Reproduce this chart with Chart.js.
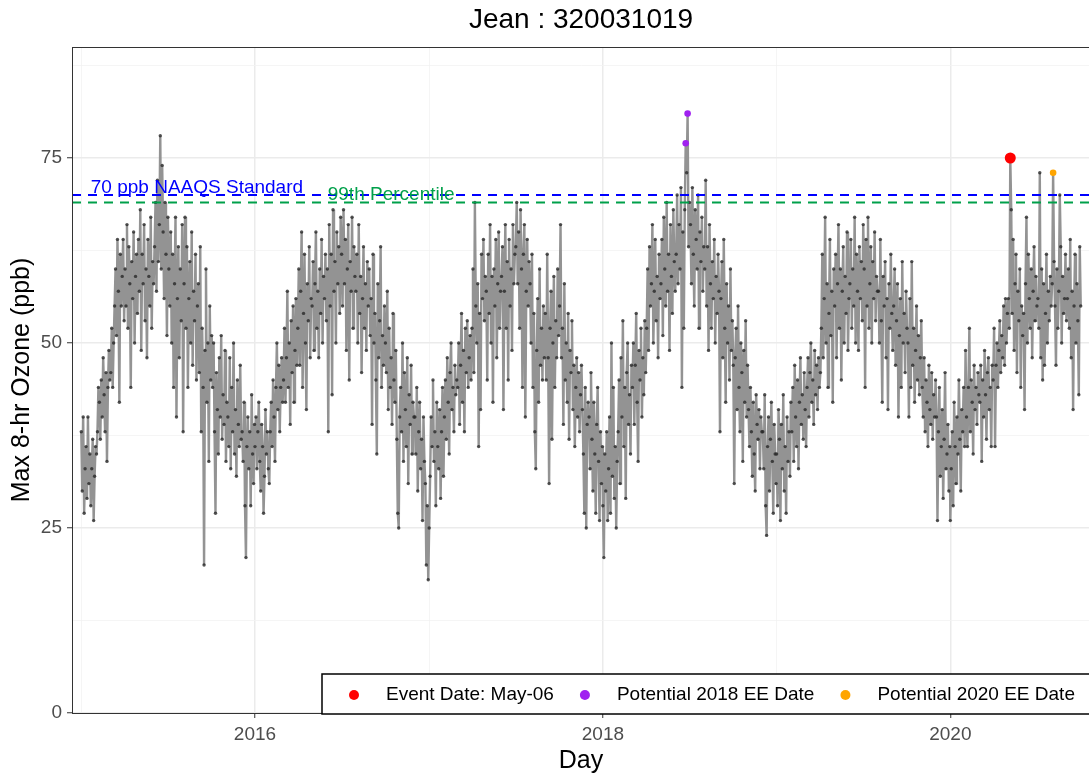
<!DOCTYPE html>
<html>
<head>
<meta charset="utf-8">
<title>Jean : 320031019</title>
<script src="https://cdn.jsdelivr.net/npm/chart.js@4.4.1/dist/chart.umd.min.js"></script>
<style>
  html, body { margin: 0; padding: 0; background: #fff; overflow: hidden; }
  #wrap { position: relative; width: 1100px; height: 778px; }
</style>
</head>
<body>
<div id="wrap"><canvas id="myChart"></canvas></div>
<script>
// max 8-hr ozone (ppb), one reading every 2 days starting Jan 1 of each year
// (one line per month)
const o3_2015 = [
  38, 30, 40, 27, 33, 36, 29, 40, 31, 35, 28, 33, 37, 26, 32, 36,
  35, 38, 44, 42, 37, 45, 40, 48, 43, 38, 46, 34, 44, 49, 45,
  46, 52, 44, 50, 55, 60, 51, 64, 57, 42, 62, 55, 59, 64, 53,
  60, 55, 66, 52, 63, 58, 44, 61, 56, 65, 50, 59, 62, 54, 64,
  57, 68, 49, 62, 58, 66, 53, 60, 48, 64, 59, 55, 67, 52, 61, 58,
  63, 69, 57, 72, 61, 66, 78, 60, 74, 65, 56, 69, 62, 51, 67,
  60, 55, 65, 50, 62, 44, 58, 67, 40, 56, 63, 48, 60, 53, 66,
  38, 58, 67, 52, 63, 44, 56, 61, 50, 65, 47, 57, 53, 62, 45, 55,
  58, 46, 63, 38, 52, 44, 20, 49, 60, 42, 50, 34, 55, 45, 51,
  44, 50, 38, 27, 46, 41, 35, 48, 40, 51, 37, 43, 39, 49, 34, 42,
  40, 36, 48, 33, 44, 38, 50, 35, 41, 32, 45, 39, 36, 47, 37,
  38, 34, 42, 28, 21, 36, 40, 33, 38, 28, 43, 35, 31, 39
];
const o3_2016 = [
  36, 40, 33, 38, 42, 34, 30, 39, 36, 27, 32, 41, 35, 38, 33,
  31, 38, 42, 36, 45, 40, 34, 44, 50, 41, 47, 38, 44, 48, 42,
  45, 52, 42, 48, 57, 44, 50, 39, 53, 46, 55, 42, 49, 56, 47,
  52, 60, 47, 57, 65, 44, 54, 62, 50, 41, 58, 53, 63, 48, 56,
  55, 61, 49, 58, 65, 52, 57, 48, 60, 54, 64, 50, 59, 56, 62, 53,
  60, 38, 66, 55, 62, 43, 68, 57, 61, 50, 65, 58, 63, 54, 67,
  62, 55, 68, 58, 64, 49, 60, 66, 45, 61, 57, 67, 52, 63, 59,
  57, 62, 50, 66, 54, 59, 46, 56, 63, 52, 58, 49, 61, 55, 60, 51,
  56, 39, 62, 50, 54, 45, 35, 58, 48, 53, 63, 44, 51, 47, 55,
  50, 46, 57, 41, 52, 44, 48, 39, 54, 45, 42, 49, 37, 27, 25, 40,
  44, 38, 50, 34, 46, 41, 36, 48, 31, 43, 39, 47, 35, 42, 40,
  40, 35, 44, 30, 38, 42, 33, 37, 26, 40, 34, 31, 20, 28, 18
];
const o3_2017 = [
  25, 32, 40, 36, 45, 34, 38, 28, 42, 36, 33, 41, 29, 38, 44,
  32, 40, 45, 37, 48, 42, 35, 46, 50, 41, 44, 38, 47, 43, 45,
  44, 50, 39, 47, 54, 42, 49, 38, 52, 46, 53, 44, 48, 51, 45,
  52, 60, 46, 69, 55, 50, 58, 36, 54, 41, 62, 56, 64, 53, 59,
  57, 45, 62, 54, 66, 50, 59, 42, 60, 55, 64, 48, 58, 65, 52, 57,
  59, 63, 41, 57, 66, 52, 61, 45, 64, 55, 60, 49, 66, 58, 62,
  63, 69, 58, 65, 52, 68, 60, 44, 62, 66, 40, 57, 64, 55, 61,
  58, 50, 62, 44, 54, 38, 33, 49, 56, 42, 60, 47, 52, 45, 55, 48,
  54, 45, 62, 48, 31, 52, 57, 37, 50, 59, 44, 53, 48, 60, 51,
  55, 66, 48, 52, 39, 58, 45, 50, 42, 54, 37, 49, 46, 53, 41, 47,
  36, 44, 48, 40, 46, 38, 43, 47, 41, 35, 27, 44, 25, 39, 42,
  40, 33, 46, 37, 30, 42, 35, 27, 39, 44, 34, 26, 38, 31, 36
];
const o3_2018 = [
  28, 21, 35, 30, 38, 26, 33, 40, 27, 50, 32, 44, 29, 36, 25, 34,
  38, 45, 31, 48, 40, 53, 36, 44, 29, 46, 50, 39, 43, 35, 47,
  44, 50, 39, 47, 54, 42, 34, 49, 45, 52, 40, 48, 43, 53, 46,
  52, 60, 49, 63, 55, 58, 66, 50, 57, 64, 53, 59, 48, 62, 56,
  58, 64, 51, 67, 60, 55, 69, 57, 62, 49, 66, 59, 54, 68, 61, 57,
  62, 70, 58, 66, 60, 71, 44, 65, 52, 68, 77, 73, 81, 63, 69,
  66, 58, 71, 62, 55, 68, 64, 60, 70, 52, 65, 61, 67, 57, 63,
  60, 72, 55, 63, 49, 66, 58, 52, 61, 56, 64, 50, 59, 54, 62, 57,
  38, 56, 61, 48, 64, 52, 42, 58, 50, 55, 45, 60, 49, 53, 47,
  31, 48, 52, 41, 55, 44, 38, 50, 46, 34, 49, 42, 53, 40, 47,
  41, 36, 44, 38, 32, 42, 35, 30, 43, 39, 37, 41, 33, 40, 38,
  38, 33, 43, 28, 24, 36, 40, 30, 37, 42, 34, 27, 39, 35, 31
];
const o3_2019 = [
  35, 28, 41, 37, 26, 39, 33, 43, 30, 36, 27, 40, 34, 38, 32, 42,
  38, 44, 34, 47, 40, 36, 45, 33, 42, 48, 39, 43, 37, 46, 41,
  36, 44, 48, 40, 46, 50, 42, 45, 39, 49, 43, 47, 41, 48, 44,
  46, 52, 62, 48, 56, 67, 50, 58, 44, 54, 64, 51, 57, 42, 60,
  55, 62, 48, 58, 66, 52, 60, 45, 57, 63, 50, 59, 54, 65, 49, 56,
  58, 64, 52, 60, 55, 67, 50, 62, 57, 49, 63, 56, 61, 53, 66,
  60, 44, 64, 55, 67, 52, 58, 63, 50, 61, 56, 65, 53, 59, 57,
  57, 50, 64, 53, 42, 59, 55, 61, 48, 56, 41, 58, 52, 62, 54, 49,
  55, 60, 47, 53, 58, 40, 51, 56, 44, 61, 50, 54, 46, 57, 52,
  50, 40, 56, 44, 61, 47, 52, 42, 49, 55, 45, 51, 43, 48, 53,
  44, 40, 48, 38, 45, 42, 36, 47, 41, 39, 46, 37, 43, 40, 45,
  40, 26, 38, 44, 32, 36, 41, 29, 37, 46, 33, 35, 39, 30, 36
];
const o3_2020 = [
  26, 33, 38, 28, 42, 36, 31, 40, 35, 45, 37, 30, 41, 38, 44, 36,
  49, 40, 36, 44, 52, 38, 45, 42, 35, 47, 41, 44, 39, 46, 43,
  42, 47, 34, 45, 40, 49, 43, 37, 46, 48, 41, 44, 36, 47, 45,
  52, 36, 47, 50, 44, 49, 53, 46, 51, 48, 55, 47, 56, 50, 54,
  56, 52, 75, 68, 54, 64, 49, 58, 62, 46, 57, 53, 60, 44, 55, 51,
  54, 41, 58, 67, 50, 62, 56, 52, 60, 48, 57, 63, 53, 59, 55,
  56, 52, 73, 48, 60, 45, 58, 47, 54, 62, 50, 57, 53, 59, 55,
  58, 73, 61, 55, 47, 60, 52, 57, 70, 63, 50, 59, 54, 56, 62, 53,
  56, 60, 52, 64, 48, 57, 41, 55, 62, 50, 58, 53, 43, 63, 55
];
const years = [2015, 2016, 2017, 2018, 2019, 2020];
const series = [o3_2015, o3_2016, o3_2017, o3_2018, o3_2019, o3_2020];

// highlighted days
const eventDates = ["2020-05-06"];
const eventValues = [75];
const ee2018Dates = ["2018-06-24", "2018-06-28"];
const ee2018Values = [77, 81];
const ee2020Dates = ["2020-08-04"];
const ee2020Values = [73];

// reference lines
const naaqs = 70;
const pct99 = 69;

// axis ticks
const yearTicks = [2015, 2016, 2017, 2018, 2019, 2020];
const labeledYears = [2016, 2018, 2020];
const yTicks = [0, 12.5, 25, 37.5, 50, 62.5, 75, 87.5];
const yLabeled = [0, 25, 50, 75];

const DAY = 86400000;
const xMin = Date.UTC(2014, 11, 12, 12);
const xMax = Date.UTC(2020, 9, 20, 12);
const green = "#00A04A";
const fam = "'Liberation Sans', Arial, Helvetica, sans-serif";

Chart.defaults.font.family = fam;

const buildSeries = () => {
  const pts = [];
  years.forEach((yr, k) => {
    const start = Date.UTC(yr, 0, 1);
    series[k].forEach((v, i) => pts.push({ x: start + i * 2 * DAY, y: v }));
  });
  return pts;
};

const toPoints = (dates, values) =>
  dates.map((d, i) => ({ x: Date.parse(d), y: values[i] }));

const hline = (v) => [{ x: xMin, y: v }, { x: xMax, y: v }];

// text next to the dashed lines (date / value where the text sits)
const refLabels = [
  { text: "70 ppb NAAQS Standard", date: "2015-09-01", value: 70.3, color: "#0000FF" },
  { text: "99th Percentile", date: "2016-10-13", value: 69.3, color: green },
];

const legendLabels = ["Event Date: May-06", "Potential 2018 EE Date", "Potential 2020 EE Date"];

const isMajorYear = (v) => labeledYears.includes(new Date(v).getUTCFullYear());

const annotPlugin = {
  id: "refText",
  afterDatasetsDraw(chart) {
    const { ctx, scales, chartArea } = chart;
    ctx.save();
    ctx.font = "19px " + fam;
    ctx.textAlign = "center";
    ctx.textBaseline = "alphabetic";
    refLabels.forEach((l) => {
      ctx.fillStyle = l.color;
      ctx.fillText(l.text, scales.x.getPixelForValue(Date.parse(l.date)), scales.y.getPixelForValue(l.value));
    });
    // panel border
    ctx.strokeStyle = "#333333";
    ctx.lineWidth = 1;
    ctx.strokeRect(chartArea.left + 0.5, chartArea.top + 0.5, chartArea.width, chartArea.height);
    ctx.restore();
  },
};

// legend box sitting inside the bottom of the panel
const boxLegend = {
  id: "boxLegend",
  afterDraw(chart) {
    const { ctx, chartArea } = chart;
    const top = chartArea.bottom - 39;
    const left = 322;
    ctx.save();
    ctx.fillStyle = "#fff";
    ctx.fillRect(left, top, 900, 40);
    ctx.strokeStyle = "#000";
    ctx.lineWidth = 1.5;
    ctx.strokeRect(left, top, 900, 40);
    ctx.font = "19px " + fam;
    ctx.textBaseline = "middle";
    ctx.textAlign = "left";
    let x = left + 32;
    const cy = top + 21;
    chart.data.datasets
      .filter((d) => legendLabels.includes(d.label))
      .forEach((d) => {
        ctx.beginPath();
        ctx.arc(x, cy, 5, 0, Math.PI * 2);
        ctx.fillStyle = d.backgroundColor;
        ctx.fill();
        ctx.fillStyle = "#000";
        ctx.fillText(d.label, x + 32, cy);
        x += 32 + ctx.measureText(d.label).width + 31;
      });
    ctx.restore();
  },
};

const chart = document.querySelector("#myChart");

const config = {
  type: "line",
  data: {
    datasets: [
      {
        label: legendLabels[0],
        data: toPoints(eventDates, eventValues),
        showLine: false,
        pointRadius: 5.5,
        pointBorderWidth: 0,
        backgroundColor: "#FF0000",
        pointBackgroundColor: "#FF0000",
        order: 0,
      },
      {
        label: legendLabels[1],
        data: toPoints(ee2018Dates, ee2018Values),
        showLine: false,
        pointRadius: 3.3,
        pointBorderWidth: 0,
        backgroundColor: "#A020F0",
        pointBackgroundColor: "#A020F0",
        order: 0,
      },
      {
        label: legendLabels[2],
        data: toPoints(ee2020Dates, ee2020Values),
        showLine: false,
        pointRadius: 3.3,
        pointBorderWidth: 0,
        backgroundColor: "#FFA500",
        pointBackgroundColor: "#FFA500",
        order: 0,
      },
      {
        label: "NAAQS",
        data: hline(naaqs),
        borderColor: "#0000FF",
        borderWidth: 2,
        borderDash: [9, 7],
        pointRadius: 0,
        order: 1,
      },
      {
        label: "99th",
        data: hline(pct99),
        borderColor: green,
        borderWidth: 2,
        borderDash: [9, 7],
        pointRadius: 0,
        order: 1,
      },
      {
        label: "Max 8-hr Ozone",
        data: buildSeries(),
        borderColor: "#939393",
        borderWidth: 2.4,
        tension: 0,
        pointRadius: 1.7,
        pointBorderWidth: 0,
        pointBackgroundColor: "rgba(40,40,40,0.8)",
        order: 2,
      },
    ],
  },
  options: {
    responsive: true,
    maintainAspectRatio: false,
    animation: false,
    events: [],
    layout: { padding: { left: 0, right: 10, top: 0, bottom: 0 } },
    plugins: {
      legend: { display: false },
      tooltip: { enabled: false },
      title: {
        display: true,
        text: "Jean : 320031019",
        fullSize: false,
        color: "#000",
        font: { size: 28, weight: "normal" },
        padding: { top: 3, bottom: 10.4 },
      },
    },
    scales: {
      x: {
        type: "linear",
        min: xMin,
        max: xMax,
        afterBuildTicks: (s) => { s.ticks = yearTicks.map((y) => ({ value: Date.UTC(y, 0, 1) })); },
        afterFit: (s) => { s.height = 65; },
        ticks: {
          autoSkip: false,
          maxRotation: 0,
          padding: 5,
          color: "#4D4D4D",
          font: { size: 19 },
          callback: (v) => (isMajorYear(v) ? String(new Date(v).getUTCFullYear()) : ""),
        },
        grid: {
          color: (c) => (c.tick && isMajorYear(c.tick.value) ? "#EBEBEB" : "#F3F3F3"),
          lineWidth: (c) => (c.tick && isMajorYear(c.tick.value) ? 1.5 : 0.8),
          tickColor: (c) => (c.tick && isMajorYear(c.tick.value) ? "#333333" : "rgba(0,0,0,0)"),
          tickLength: 5,
          tickWidth: 1,
        },
        border: { display: true, color: "#333333", width: 1 },
        title: {
          display: true,
          text: "Day",
          color: "#000",
          font: { size: 25 },
          padding: { top: 0, bottom: 2 },
        },
      },
      y: {
        min: 0,
        max: 90,
        afterBuildTicks: (s) => { s.ticks = yTicks.map((v) => ({ value: v })); },
        afterFit: (s) => { s.width = 72; },
        ticks: {
          autoSkip: false,
          padding: 5,
          color: "#4D4D4D",
          font: { size: 19 },
          callback: (v) => (yLabeled.includes(v) ? String(v) : ""),
        },
        grid: {
          color: (c) => (c.tick && yLabeled.includes(c.tick.value) ? "#EBEBEB" : "#F3F3F3"),
          lineWidth: (c) => (c.tick && yLabeled.includes(c.tick.value) ? 1.5 : 0.8),
          tickColor: (c) => (c.tick && yLabeled.includes(c.tick.value) ? "#333333" : "rgba(0,0,0,0)"),
          tickLength: 5,
          tickWidth: 1,
        },
        border: { display: true, color: "#333333", width: 1 },
        title: {
          display: true,
          text: "Max 8-hr Ozone (ppb)",
          color: "#000",
          font: { size: 25 },
          padding: { top: 7, bottom: 0 },
        },
      },
    },
  },
  plugins: [annotPlugin, boxLegend],
};

const myChart = new Chart(chart, config);
</script>
</body>
</html>
